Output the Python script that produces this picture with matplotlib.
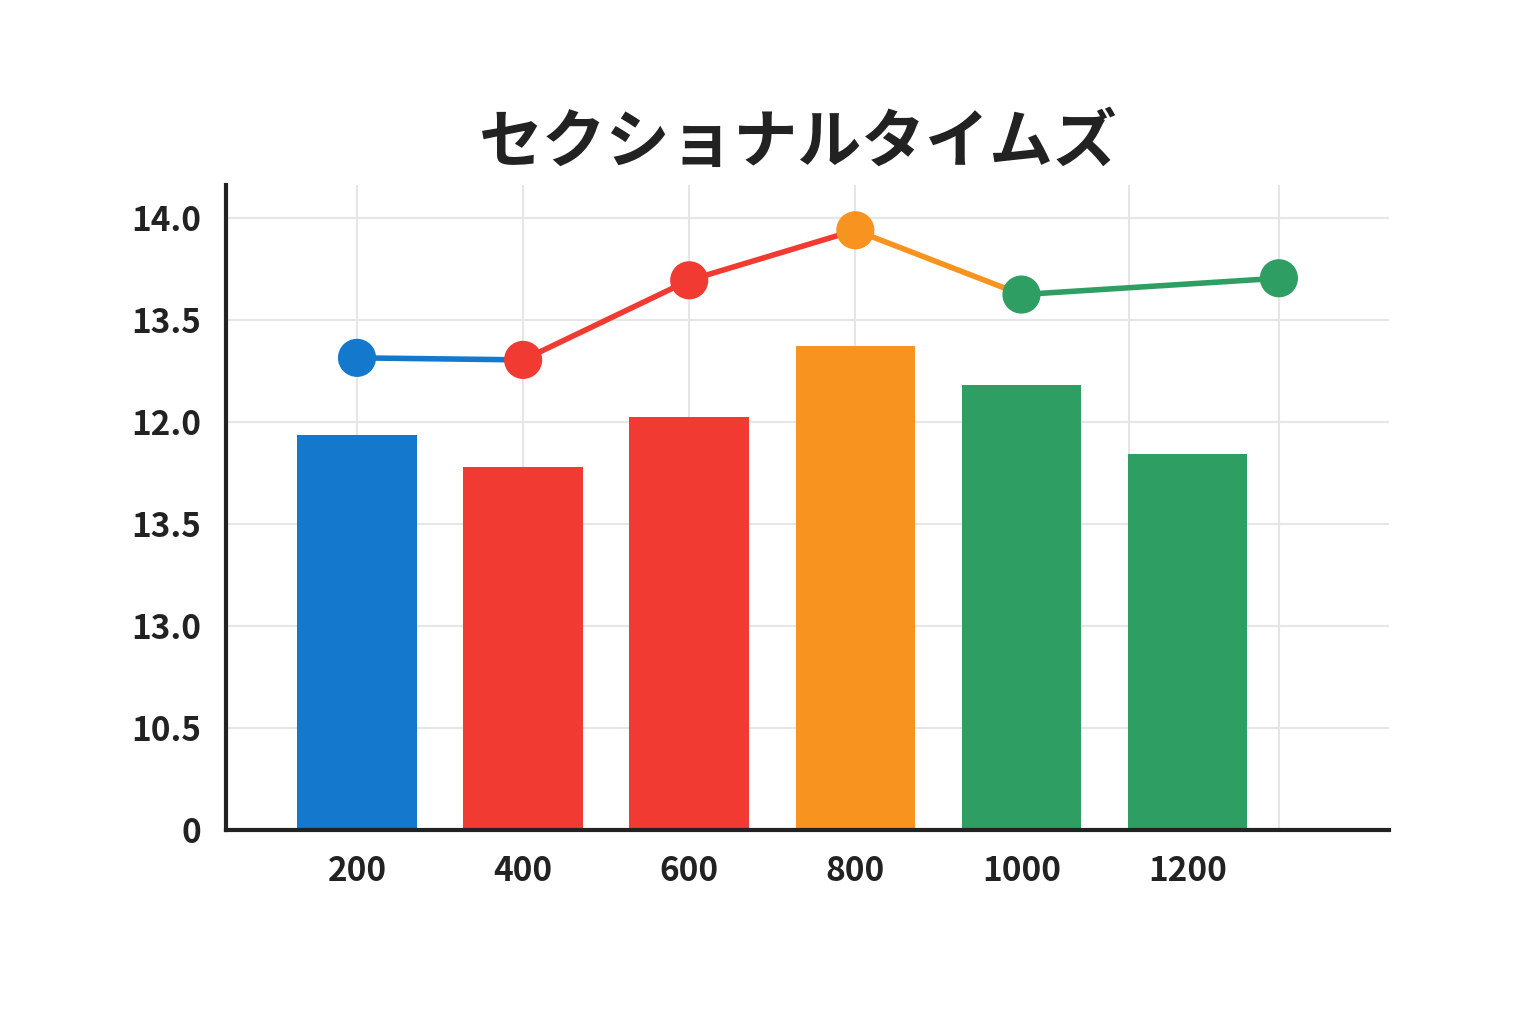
import matplotlib
matplotlib.use("Agg")
import matplotlib.pyplot as plt

plt.rcParams['font.family'] = ['Noto Sans CJK JP', 'DejaVu Sans']

# datos (en unidades de posición del eje, las etiquetas del eje son irregulares)
categorias = ["200", "400", "600", "800", "1000", "1200"]
barras = [3.87, 3.56, 4.05, 4.75, 4.36, 3.69]
colores_barras = ["#1479cc", "#f03a32", "#f03a32", "#f7931e", "#2f9e62", "#2f9e62"]

linea_x = [0, 1, 2, 3, 4, 5.55]
linea_y = [4.63, 4.61, 5.39, 5.88, 5.25, 5.41]
colores_puntos = ["#1479cc", "#f03a32", "#f03a32", "#f7931e", "#2f9e62", "#2f9e62"]
colores_tramos = ["#1479cc", "#f03a32", "#f03a32", "#f7931e", "#2f9e62"]

etiquetas_y = ["0", "10.5", "13.0", "13.5", "12.0", "13.5", "14.0"]
grid_x = [0, 1, 2, 3, 4.65, 5.55]

fig = plt.figure(figsize=(15.36, 10.24), dpi=100)
ax = fig.add_axes([0.147, 0.189, 0.757, 0.63])

for gx in grid_x:
    ax.axvline(gx, color="#e6e6e6", lw=1.5, zorder=0)
for gy in range(1, len(etiquetas_y)):
    ax.axhline(gy, color="#e6e6e6", lw=1.5, zorder=0)

ax.bar(range(len(categorias)), barras, width=0.72, color=colores_barras, zorder=2)

for i in range(len(colores_tramos)):
    ax.plot(linea_x[i:i + 2], linea_y[i:i + 2], color=colores_tramos[i], lw=4, zorder=3)
ax.scatter(linea_x, linea_y, s=700, c=colores_puntos, zorder=4)

ax.set_xlim(-0.79, 6.21)
ax.set_ylim(0, 6.32)
ax.set_xticks(range(len(categorias)))
ax.set_xticklabels(categorias, fontsize=24, fontweight="bold", color="#222222")
ax.set_yticks(range(len(etiquetas_y)))
ax.set_yticklabels(etiquetas_y, fontsize=24, fontweight="bold", color="#222222")
ax.tick_params(length=0, pad=18)

for s in ["top", "right"]:
    ax.spines[s].set_visible(False)
for s in ["left", "bottom"]:
    ax.spines[s].set_linewidth(3)
    ax.spines[s].set_color("#222222")

fig.text(0.52, 0.86, "セクショナルタイムズ", ha="center", va="center",
         fontsize=46, fontweight="bold", color="#222222")

fig.savefig("out.png", dpi=100)
